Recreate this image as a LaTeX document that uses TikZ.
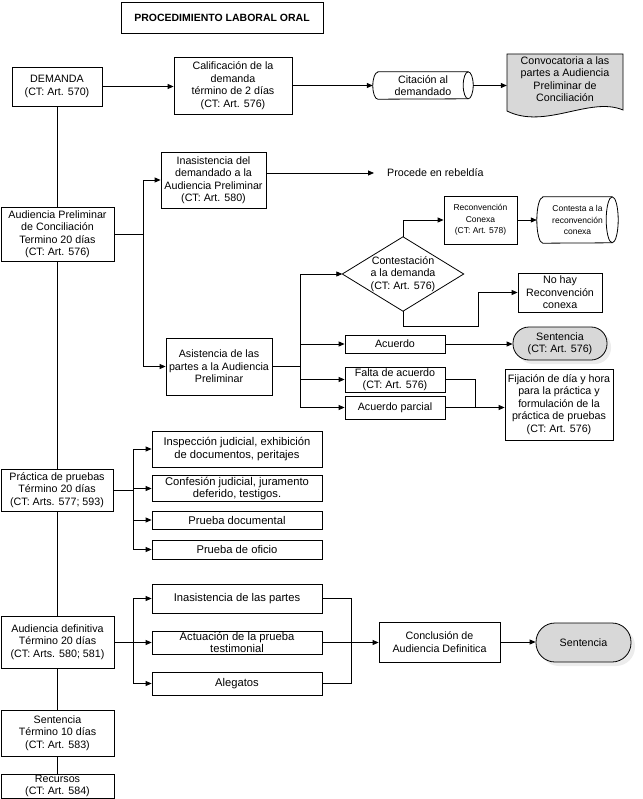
\documentclass[tikz,border=0pt]{standalone}
\usepackage{fontspec}
\setmainfont{Liberation Sans}
\usetikzlibrary{arrows.meta,shadows,calc}
\definecolor{shade}{RGB}{216,216,216}
\begin{document}
\begin{tikzpicture}[x=1pt,y=-1pt,
  txt/.style={font=\fontsize{10.7}{12.5}\selectfont, align=center, inner sep=1pt},
  bx/.style={txt, draw=black, line width=0.8pt, fill=white},
  sz/.style 2 args={minimum width=#1pt, minimum height=#2pt},
  tbig/.style={font=\fontsize{11.2}{12.5}\selectfont},
  tsmall/.style={font=\fontsize{8.5}{11.5}\selectfont},
  ln/.style={draw=black, line width=0.8pt},
  arr/.style={ln, -{Triangle[length=6pt,width=5pt]}},
  term/.style={bx, fill=shade, rounded corners=#1, drop shadow={opacity=0.15, shadow xshift=4pt, shadow yshift=-4pt}},
]
\useasboundingbox (0,0) rectangle (642,799);

% top row
\node[bx, sz={202}{31}, font=\bfseries\fontsize{10.5}{12}\selectfont] (title) at (222,18) {PROCEDIMIENTO LABORAL ORAL};
\node[bx, sz={90}{39}] (dem) at (57,86.5) {DEMANDA\\(CT: Art. 570)};
\node[bx, sz={118}{57}] (cal) at (233,85.5) {Calificación de la\\demanda\\término de 2 días\\(CT: Art. 576)};
\node[txt, sz={100}{27}] (cit) at (423,85.5) {Citación al\\demandado};
\draw[ln] ([xshift=5pt]cit.north west) -- ([xshift=-5pt]cit.north east) arc[start angle=90,end angle=-90,x radius=5pt,y radius=13.5pt] -- ([xshift=5pt]cit.south west) arc[start angle=270,end angle=90,x radius=5pt,y radius=13.5pt] -- cycle;
\draw[ln] ([xshift=-5pt]cit.north east) arc[start angle=90,end angle=270,x radius=5pt,y radius=13.5pt];
\filldraw[ln, fill=shade] (507,54) -- (623,54) -- (623,110) .. controls (590,96) and (545,130) .. (507,111) -- cycle;
\node[txt, minimum width=116pt] (conv) at (565,79) {Convocatoria a las\\partes a Audiencia\\Preliminar de\\Conciliación};

% audiencia preliminar
\node[bx, sz={113}{54}] (ap) at (57.5,234) {Audiencia Preliminar\\de Conciliación\\Termino 20 días\\(CT: Art. 576)};
\node[bx, sz={105}{56}] (inas) at (213.5,180) {Inasistencia del\\demandado a la\\Audiencia Preliminar\\(CT: Art. 580)};
\node[txt, anchor=west] (proc) at (386,173) {Procede en rebeldía};
\node[bx, tsmall, sz={73}{48}] (rec) at (480.5,220) {Reconvención\\Conexa\\(CT: Art. 578)};
\node[txt, tsmall, sz={81}{46}] (cont) at (577.5,220) {Contesta a la\\reconvención\\conexa};
\draw[ln] ([xshift=6pt]cont.north west) -- ([xshift=-6pt]cont.north east) arc[start angle=90,end angle=-90,x radius=6pt,y radius=23pt] -- ([xshift=6pt]cont.south west) arc[start angle=270,end angle=90,x radius=6pt,y radius=23pt] -- cycle;
\draw[ln] ([xshift=-6pt]cont.north east) arc[start angle=90,end angle=270,x radius=6pt,y radius=23pt];
\node[txt, sz={121}{74}] (dia) at (403,274) {Contestación\\a la demanda\\(CT: Art. 576)};
\draw[ln] (dia.north) -- (dia.east) -- (dia.south) -- (dia.west) -- cycle;
\node[bx, sz={84}{39}] (nohay) at (560,292.5) {No hay\\Reconvención\\conexa};
\node[bx, sz={106}{57}] (asis) at (219,366.5) {Asistencia de las\\partes a la Audiencia\\Preliminar};
\node[bx, sz={100}{18}] (acu) at (395,344) {Acuerdo};
\node[term=16pt, sz={94}{33}] (sent1) at (560,343.5) {Sentencia\\(CT: Art. 576)};
\node[bx, sz={100}{25}] (falta) at (395,379.5) {Falta de acuerdo\\(CT: Art. 576)};
\node[bx, sz={100}{23}] (parc) at (395,407.5) {Acuerdo parcial};
\node[bx, sz={108}{71}] (fij) at (559,404.5) {Fijación de día y hora\\para la práctica y\\formulación de la\\práctica de pruebas\\(CT: Art. 576)};

% practica de pruebas
\node[bx, sz={112}{42}] (prac) at (57,490) {Práctica de pruebas\\Término 20 días\\(CT: Arts. 577; 593)};
\node[bx, tbig, sz={170}{36}] (insp) at (237,449) {Inspección judicial, exhibición\\de documentos, peritajes};
\node[bx, tbig, sz={170}{26}] (conf) at (237,488.5) {Confesión judicial, juramento\\deferido, testigos.};
\node[bx, tbig, sz={170}{18}] (pdoc) at (237,520) {Prueba documental};
\node[bx, tbig, sz={170}{19}] (pofi) at (237,549.5) {Prueba de oficio};

% audiencia definitiva
\node[bx, sz={113}{52}] (adef) at (57.5,642) {Audiencia definitiva\\Término 20 días\\(CT: Arts. 580; 581)};
\node[bx, tbig, sz={170}{29}] (inp) at (237,598.5) {Inasistencia de las partes};
\node[bx, tbig, sz={170}{23}] (act) at (237,642.5) {Actuación de la prueba\\testimonial};
\node[bx, tbig, sz={170}{23}] (aleg) at (237,683.5) {Alegatos};
\node[bx, sz={121}{40}] (concl) at (439.5,642) {Conclusión de\\Audiencia Definitica};
\node[term=19pt, sz={95}{39}] (sent2) at (583.5,642.5) {Sentencia};
\node[bx, sz={113}{46}] (sent3) at (57.5,733) {Sentencia\\Término 10 días\\(CT: Art. 583)};
\node[bx, sz={113}{24}] (recu) at (57.5,786) {Recursos\\(CT: Art. 584)};

% main spine
\draw[ln] (dem.south) -- (dem.south |- ap.north);
\draw[ln] (dem.south |- ap.south) -- (dem.south |- prac.north);
\draw[ln] (dem.south |- prac.south) -- (dem.south |- adef.north);
\draw[ln] (dem.south |- adef.south) -- (dem.south |- sent3.north);
\draw[ln] (dem.south |- sent3.south) -- (dem.south |- recu.north);

% top connectors
\draw[arr] (dem.east) -- (dem.east -| cal.west);
\draw[arr] (cal.east) -- (cal.east -| cit.west);
\draw[arr] (cit.east) -- (cit.east -| conv.west);

% preliminar branches
\draw[arr] (ap.east) -- ++(29,0) |- (inas.west);
\draw[arr] (ap.east) ++(29,0) |- (asis.west);
\draw[arr] (proc.west -| inas.east) -- ([xshift=-12pt]proc.west);
\draw[arr] (asis.east) -- ++(28,0) |- (dia.west);
\draw[arr] (asis.east) ++(28,0) |- (acu.west);
\draw[arr] (asis.east) ++(28,0) |- (falta.west);
\draw[arr] (asis.east) ++(28,0) |- (parc.west);
\draw[arr] (dia.north) |- (rec.west);
\draw[arr] (rec.east) -- (cont.west);
\draw[arr] (dia.south) -- ++(0,15) -- ++(75,0) |- (nohay.west);
\draw[arr] (acu.east) -- (acu.east -| sent1.west);
\draw[ln] (falta.east) -- ++(30,0) |- (parc.east);
\draw[arr] (parc.east) -- (parc.east -| fij.west);

% practica branches
\draw[arr] (prac.east) -- ++(20,0) |- (insp.west);
\draw[arr] (prac.east) ++(20,0) |- (conf.west);
\draw[arr] (prac.east) ++(20,0) |- (pdoc.west);
\draw[arr] (prac.east) ++(20,0) |- (pofi.west);

% definitiva branches
\draw[arr] (adef.east) -- ++(19,0) |- (inp.west);
\draw[arr] (adef.east) ++(19,0) |- (act.west);
\draw[arr] (adef.east) ++(19,0) |- (aleg.west);
\draw[ln] (inp.east) -- ++(29,0) |- (aleg.east);
\draw[arr] (act.east) -- (act.east -| concl.west);
\draw[arr] (concl.east) -- (concl.east -| sent2.west);
\end{tikzpicture}
\end{document}
